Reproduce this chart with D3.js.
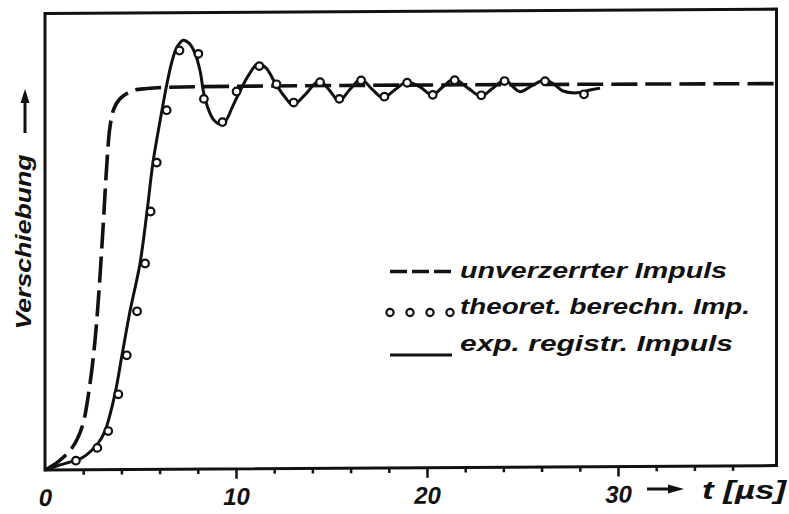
<!DOCTYPE html>
<html>
<head>
<meta charset="utf-8">
<script src="https://cdn.jsdelivr.net/npm/d3@7"></script>
<style>
  html, body { margin: 0; padding: 0; background: #fff; }
  svg text { font-family: "Liberation Sans", Arial, sans-serif; font-weight: bold; font-style: italic; fill: #111; }
</style>
</head>
<body>
<svg id="chart" width="789" height="514"></svg>
<script>
// Time axis in µs
const tickLabels = [0, 10, 20, 30];
const minorTicks = [2, 4, 6, 8, 12, 14, 16, 18, 22, 24, 26, 28, 32, 34, 36];
const tMax = 38.3;
const vMax = 1.195;

// Undistorted pulse (dashed)
const idealT = [0, 0.68, 1.41, 1.94, 2.36, 2.62, 2.83, 3.04, 3.25, 3.40, 3.61, 3.93, 4.61, 5.34, 6.54, 38.3];
const idealV = [0, 0.021, 0.057, 0.112, 0.227, 0.339, 0.470, 0.634, 0.809, 0.896, 0.945, 0.971, 0.992, 0.997, 1.0, 1.0];

// Experimentally recorded pulse (solid)
const recT = [0, 0.79, 1.99, 2.77, 3.14, 3.66, 4.03, 4.45, 4.97, 5.34, 5.65, 6.13, 6.34, 6.65, 6.91, 7.23, 7.54, 7.85,
  8.12, 8.32, 8.59, 8.85, 9.16, 9.48, 9.79, 10.21, 10.63, 11.15, 11.57, 12.09, 12.57, 12.98, 13.61, 14.35, 14.92,
  15.39, 15.97, 16.54, 17.12, 17.70, 18.32, 18.95, 19.63, 20.26, 20.84, 21.41, 22.15, 22.83, 23.46, 24.08, 24.50,
  24.87, 25.55, 26.18, 26.70, 27.12, 27.85, 28.53, 29.06];
const recV = [0, 0.013, 0.033, 0.069, 0.101, 0.197, 0.299, 0.414, 0.538, 0.674, 0.802, 0.941, 0.998, 1.068, 1.105,
  1.123, 1.115, 1.089, 1.042, 0.982, 0.937, 0.913, 0.903, 0.913, 0.945, 0.989, 1.028, 1.060, 1.049, 1.006, 0.972,
  0.952, 0.978, 1.014, 0.988, 0.961, 0.992, 1.018, 0.992, 0.969, 0.990, 1.010, 0.997, 0.976, 0.997, 1.017, 0.993,
  0.972, 0.993, 1.014, 0.996, 0.983, 1.000, 1.013, 1.000, 0.984, 0.979, 0.986, 0.991];

// Theoretically computed pulse (circles)
const calcT = [1.62, 2.74, 3.31, 3.84, 4.28, 4.82, 5.24, 5.53, 5.85, 6.37, 7.04, 8.03, 8.32, 9.29, 10.03, 11.22,
  12.12, 13.02, 14.40, 15.41, 16.55, 17.77, 18.96, 20.30, 21.45, 22.84, 24.06, 26.18, 28.22];
const calcV = [0.024, 0.057, 0.101, 0.197, 0.299, 0.414, 0.539, 0.675, 0.803, 0.940, 1.096, 1.087, 0.969, 0.908,
  0.988, 1.054, 1.006, 0.958, 1.011, 0.967, 1.015, 0.972, 1.008, 0.976, 1.014, 0.974, 1.011, 1.010, 0.975];

const legendLabels = ["unverzerrter Impuls", "theoret. berechn. Imp.", "exp. registr. Impuls"];
const yTitle = "Verschiebung";
const xTitle = "t [µs]";

const ink = "#111";
const svg = d3.select("#chart");

const x = d3.scaleLinear().domain([0, 30]).range([45, 618]);
const y = d3.scaleLinear().domain([0, 1]).range([470, 88]);

// the drawing sheet sits slightly askew
const k = -0.006;
const plot = svg.append("g").attr("transform", `matrix(1,${k},0,1,0,${-k * 45})`);

const zip = (a, b) => a.map((t, i) => [t, b[i]]);
const line = d3.line().x(d => x(d[0])).y(d => y(d[1])).curve(d3.curveCatmullRom.alpha(0.5));

// frame
plot.append("rect")
  .attr("x", x(0)).attr("y", y(vMax))
  .attr("width", x(tMax) - x(0)).attr("height", y(0) - y(vMax))
  .attr("fill", "none").attr("stroke", ink).attr("stroke-width", 3);

// axis ticks
const minorAxis = d3.axisBottom(x).tickValues(minorTicks).tickSize(5).tickFormat("");
const gMinor = plot.append("g").attr("transform", `translate(0,${y(0)})`).call(minorAxis);
gMinor.select(".domain").remove();
gMinor.selectAll("line").attr("stroke", ink).attr("stroke-width", 2.5);

const majorAxis = d3.axisBottom(x).tickValues(tickLabels).tickSize(10).tickFormat(d3.format("d"));
const gMajor = plot.append("g").attr("transform", `translate(0,${y(0)})`).call(majorAxis);
gMajor.select(".domain").remove();
gMajor.attr("font-family", null).attr("font-size", null);
gMajor.selectAll("line").attr("stroke", ink).attr("stroke-width", 2.5)
  .filter(d => d === 0).remove();
gMajor.selectAll("text")
  .attr("y", 36).attr("dy", null)
  .style("font-size", "24px").attr("fill", ink);

// undistorted pulse
plot.append("path")
  .datum(zip(idealT, idealV))
  .attr("d", line)
  .attr("fill", "none").attr("stroke", ink).attr("stroke-width", 3.6)
  .attr("stroke-dasharray", "26,8");

// recorded pulse
plot.append("path")
  .datum(zip(recT, recV))
  .attr("d", line)
  .attr("fill", "none").attr("stroke", ink).attr("stroke-width", 3)
  .attr("stroke-linejoin", "round");

// computed points
plot.append("g").selectAll("circle")
  .data(zip(calcT, calcV))
  .join("circle")
  .attr("cx", d => x(d[0])).attr("cy", d => y(d[1]))
  .attr("r", 3.8)
  .attr("fill", "#fff").attr("stroke", ink).attr("stroke-width", 2.2);

// y title with arrow
svg.append("text")
  .attr("transform", "translate(31,242) rotate(-90)")
  .attr("text-anchor", "middle")
  .attr("textLength", 175).attr("lengthAdjust", "spacingAndGlyphs")
  .style("font-size", "22px")
  .text(yTitle);
svg.append("line").attr("x1", 25).attr("x2", 25).attr("y1", 133).attr("y2", 100)
  .attr("stroke", ink).attr("stroke-width", 3);
svg.append("path").attr("d", "M25,89 L20.5,103 L29.5,103 Z").attr("fill", ink);

// x title with arrow
svg.append("line").attr("x1", 647).attr("x2", 672).attr("y1", 489).attr("y2", 489)
  .attr("stroke", ink).attr("stroke-width", 3);
svg.append("path").attr("d", "M684,489 L668,484.5 L668,493.5 Z").attr("fill", ink);
svg.append("text")
  .attr("x", 702).attr("y", 499)
  .attr("textLength", 84).attr("lengthAdjust", "spacingAndGlyphs")
  .style("font-size", "26px")
  .text(xTitle);

// legend
const legend = svg.append("g");
const rowText = [278, 314, 351];
const rowMark = [271.5, 312.5, 355];
const textLen = [267, 290, 273];

legend.append("line")
  .attr("x1", 390).attr("x2", 452).attr("y1", rowMark[0]).attr("y2", rowMark[0])
  .attr("stroke", ink).attr("stroke-width", 3.4).attr("stroke-dasharray", "17,5");
legend.selectAll("circle.key")
  .data([390, 410, 430, 450])
  .join("circle").attr("class", "key")
  .attr("cx", d => d).attr("cy", rowMark[1]).attr("r", 3.6)
  .attr("fill", "#fff").attr("stroke", ink).attr("stroke-width", 2.2);
legend.append("line")
  .attr("x1", 390).attr("x2", 452).attr("y1", rowMark[2]).attr("y2", rowMark[2])
  .attr("stroke", ink).attr("stroke-width", 3);

legend.selectAll("text")
  .data(legendLabels)
  .join("text")
  .attr("x", 460).attr("y", (d, i) => rowText[i])
  .attr("textLength", (d, i) => textLen[i]).attr("lengthAdjust", "spacingAndGlyphs")
  .style("font-size", "22px")
  .text(d => d);
</script>
</body>
</html>
